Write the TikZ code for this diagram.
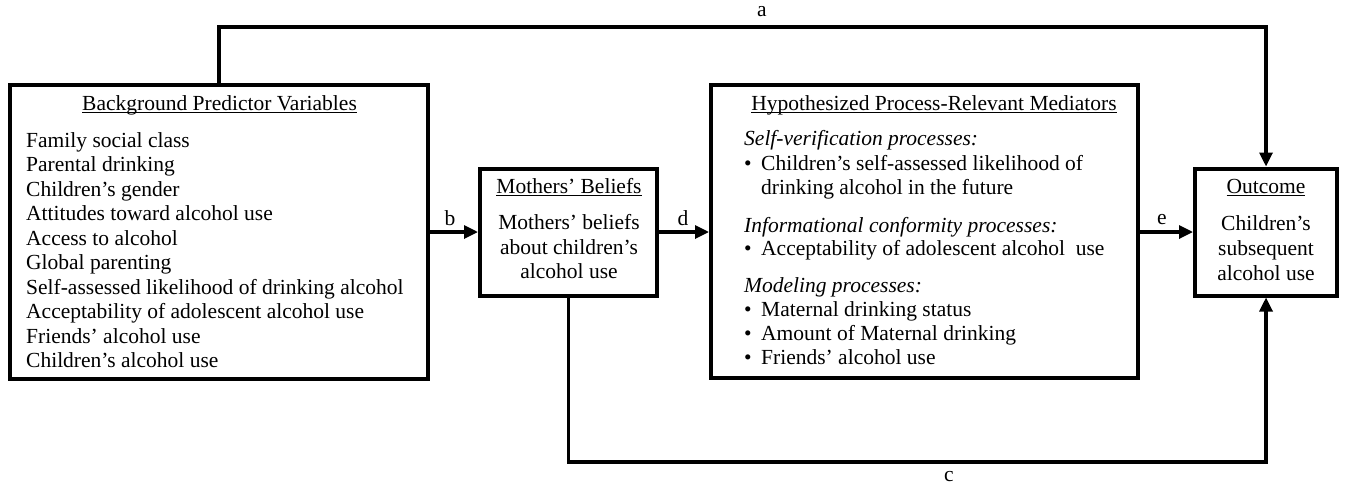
\documentclass[tikz,border=0pt]{standalone}
\usepackage{fontspec}
\setmainfont{Liberation Serif}
\usetikzlibrary{arrows.meta}
\newcommand{\ulin}[1]{\setbox0\hbox{#1}\rlap{\rule[-3pt]{\wd0}{1.5pt}}\box0}
\newcommand{\bul}{\makebox[17pt][l]{•}}
\begin{document}
\begin{tikzpicture}[x=1pt,y=-1pt,
  box/.style={draw, line width=4pt, inner sep=0pt, rectangle},
  txt/.style={inner sep=0pt, font=\fontsize{21.5}{24}\selectfont},
  conn/.style={line width=3.2pt},
  arr/.style={conn, -{Triangle[length=14pt,width=13pt]}},
]
\useasboundingbox (0,0) rectangle (1347,485);
% boxes
\node[box, minimum width=418pt, minimum height=294pt] (bg) at (219,232) {};
\node[box, minimum width=177pt, minimum height=127pt] (mb) at (568.5,232) {};
\node[box, minimum width=427pt, minimum height=293pt] (med) at (924.5,231.5) {};
\node[box, minimum width=142pt, minimum height=127pt] (out) at (1266,232) {};
% background text
\node[txt, anchor=base] (bgt) at (219.5,110) {\ulin{Background Predictor Variables}};
\foreach [count=\i] \t in {Family social class, Parental drinking, Children’s gender,
  Attitudes toward alcohol use, Access to alcohol, Global parenting,
  Self-assessed likelihood of drinking alcohol, Acceptability of adolescent alcohol use,
  Friends’ alcohol use, Children’s alcohol use}
  \node[txt, anchor=base west] (bgl\i) at (26,{147+(\i-1)*24.55}) {\t};
% mothers text
\node[txt, anchor=base] (mbt) at (569,193) {\ulin{Mothers’ Beliefs}};
\node[txt, anchor=base] (mb1) at (569,229) {Mothers’ beliefs};
\node[txt, anchor=base] (mb2) at (569,254) {about children’s};
\node[txt, anchor=base] (mb3) at (569,278) {alcohol use};
% mediators text
\node[txt, anchor=base] (medt) at (934,110) {\ulin{Hypothesized Process-Relevant Mediators}};
\node[txt, anchor=base west] (m1) at (744,145) {\itshape Self-verification processes:};
\node[txt, anchor=base west] (m2) at (744,170) {\bul Children’s self-assessed likelihood of};
\node[txt, anchor=base west] (m3) at (761,194) {drinking alcohol in the future};
\node[txt, anchor=base west] (m4) at (744,232) {\itshape Informational conformity processes:};
\node[txt, anchor=base west] (m5) at (744,255) {\bul Acceptability of adolescent alcohol\ \ use};
\node[txt, anchor=base west] (m6) at (744,292) {\itshape Modeling processes:};
\node[txt, anchor=base west] (m7) at (744,316) {\bul Maternal drinking status};
\node[txt, anchor=base west] (m8) at (744,340) {\bul Amount of Maternal drinking};
\node[txt, anchor=base west] (m9) at (744,364) {\bul Friends’ alcohol use};
% outcome text
\node[txt, anchor=base] (outt) at (1266,193) {\ulin{Outcome}};
\node[txt, anchor=base] (out1) at (1266,230) {Children’s};
\node[txt, anchor=base] (out2) at (1266,255) {subsequent};
\node[txt, anchor=base] (out3) at (1266,280) {alcohol use};
% connectors
\coordinate (atop) at (742,27);
\coordinate (cbot) at (917,462);
\draw[arr] (bg.north) |- (atop) -| (out.north);
\draw[arr] (mb.south) |- (cbot) -| (out.south);
\draw[arr] (bg.east) -- (mb.west);
\draw[arr] (mb.east) -- (med.west |- mb.east);
\draw[arr] (med.east |- out.west) -- (out.west);
% labels
\node[txt] (la) at (762,12) {a};
\node[txt] (lb) at (450,218) {b};
\node[txt] (lc) at (949,477) {c};
\node[txt] (ld) at (683,218) {d};
\node[txt] (le) at (1162,220) {e};
\end{tikzpicture}
\end{document}
